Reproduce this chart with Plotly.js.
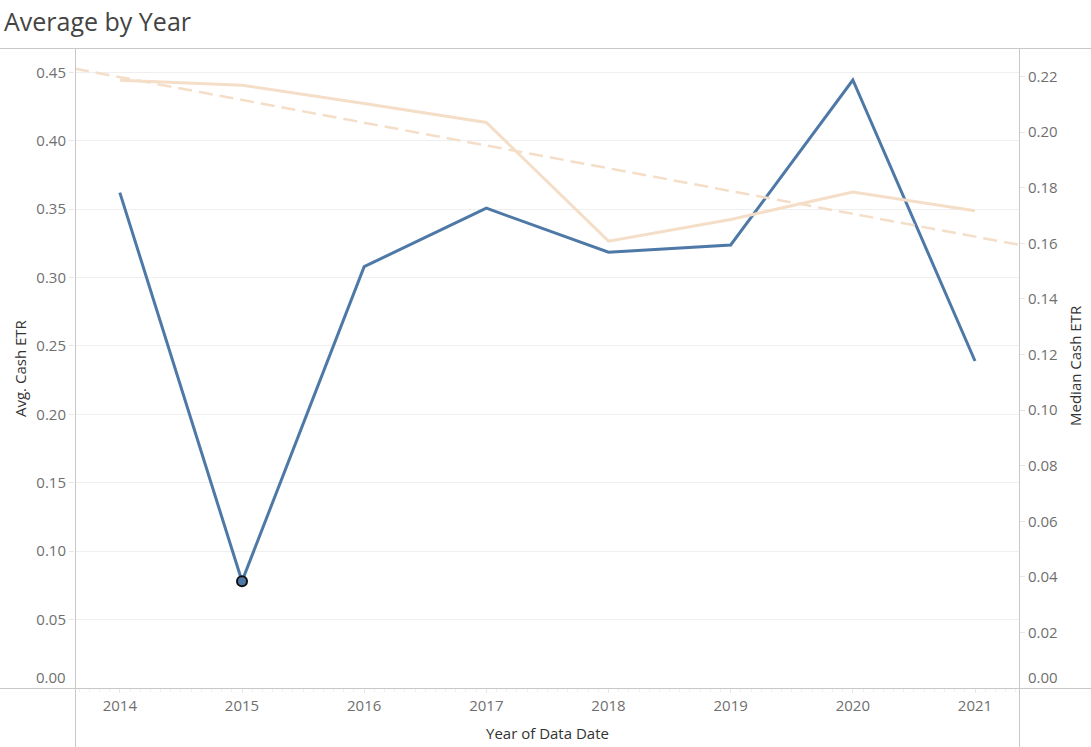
<!DOCTYPE html>
<html>
<head>
<meta charset="utf-8">
<script src="https://cdn.plot.ly/plotly-3.0.1.min.js"></script>
<style>
  html, body { margin: 0; padding: 0; background: #fff; }
  #chart { width: 1091px; height: 747px; }
</style>
</head>
<body>
<div id="chart"></div>
<script>
// ---- data ----
const years = [2014, 2015, 2016, 2017, 2018, 2019, 2020, 2021];
const avgCashETR = [0.3621, 0.0780, 0.3080, 0.3507, 0.3185, 0.3238, 0.4444, 0.2390];
const medianCashETR = [0.2187, 0.2169, 0.2103, 0.2035, 0.1608, 0.1686, 0.1785, 0.1717];
const selectedYear = 2015;
const leftTicks = [0, 0.05, 0.10, 0.15, 0.20, 0.25, 0.30, 0.35, 0.40, 0.45];
const rightTicks = [0, 0.02, 0.04, 0.06, 0.08, 0.10, 0.12, 0.14, 0.16, 0.18, 0.20, 0.22];

// ---- layout constants ----
const W = 1091, H = 747;
const M = { l: 75, r: 72, t: 48, b: 59 };
const PW = W - M.l - M.r, PH = H - M.t - M.b;
const xRange = [2013.633, 2021.36];
const yRange = [0, 0.4678];
const y2Range = [0, 0.2303];

const blue = '#4e79a7';
const peach = '#f4dec8';
const tickGrey = '#6f6f6f';
const lineGrey = '#c8c8c8';
const FONT = 'Open Sans, Noto Sans, sans-serif';

// least-squares trend of the median series (as Tableau's trend line)
const n = years.length;
const mx = years.reduce((a, b) => a + b, 0) / n;
const my = medianCashETR.reduce((a, b) => a + b, 0) / n;
let sxy = 0, sxx = 0;
for (let i = 0; i < n; i++) { sxy += (years[i] - mx) * (medianCashETR[i] - my); sxx += (years[i] - mx) ** 2; }
const slope = sxy / sxx;
const trendX = xRange.slice();
const trendY = trendX.map(x => my + slope * (x - mx));

const selIdx = years.indexOf(selectedYear);

const traces = [
  {
    x: trendX, y: trendY, yaxis: 'y2', mode: 'lines', type: 'scatter',
    line: { color: peach, width: 2.5, dash: '14px,7px' }, hoverinfo: 'skip', cliponaxis: false
  },
  {
    x: years, y: medianCashETR, yaxis: 'y2', mode: 'lines', type: 'scatter',
    line: { color: peach, width: 3 }, name: 'Median Cash ETR'
  },
  {
    x: years, y: avgCashETR, mode: 'lines', type: 'scatter',
    line: { color: blue, width: 3 }, name: 'Avg. Cash ETR'
  },
  {
    x: [years[selIdx]], y: [avgCashETR[selIdx]], mode: 'markers', type: 'scatter',
    marker: { color: blue, size: 10, line: { color: '#111', width: 2 } }, hoverinfo: 'skip'
  }
];

const px = v => (v - M.l) / PW;        // pixel x -> paper x
const py = v => (H - M.b - v) / PH;    // pixel y -> paper y

const layout = {
  width: W, height: H,
  margin: M,
  paper_bgcolor: '#fff', plot_bgcolor: '#fff',
  showlegend: false,
  font: { family: FONT, color: tickGrey, size: 15 },
  title: {
    text: 'Average by Year', x: 4 / W, xanchor: 'left', xref: 'container',
    y: 1 - 22 / H, yanchor: 'middle', yref: 'container',
    font: { family: FONT, size: 25, color: '#444' }
  },
  xaxis: {
    range: xRange, tickvals: years, ticktext: years.map(String),
    showgrid: false, zeroline: false, showline: false,
    ticks: 'outside', ticklen: 4, tickcolor: '#e6e6e6', tickwidth: 1,
    minor: { dtick: 1 / 12, tick0: 2014, ticks: 'outside', ticklen: 3, tickcolor: '#f0f0f0', showgrid: false },
    tickfont: { family: FONT, size: 15, color: tickGrey }
  },
  yaxis: {
    range: yRange, tickvals: leftTicks,
    ticktext: leftTicks.map(v => v === 0 ? '' : v.toFixed(2)),
    showgrid: true, gridcolor: '#efefef', gridwidth: 1,
    zeroline: false, showline: false,
    ticks: 'outside', ticklen: 5, tickcolor: '#e6e6e6',
    tickfont: { family: FONT, size: 15, color: tickGrey }
  },
  yaxis2: {
    range: y2Range, overlaying: 'y', side: 'right', tickvals: rightTicks,
    ticktext: rightTicks.map(v => v === 0 ? '' : v.toFixed(2)),
    showgrid: false, zeroline: false, showline: false,
    ticks: 'outside', ticklen: 5, tickcolor: '#e6e6e6',
    tickfont: { family: FONT, size: 15, color: tickGrey }
  },
  shapes: [
    { type: 'line', xref: 'paper', yref: 'paper', x0: px(0), x1: px(W), y0: py(48.5), y1: py(48.5), line: { color: lineGrey, width: 1 } },
    { type: 'line', xref: 'paper', yref: 'paper', x0: px(0), x1: px(W), y0: py(688.5), y1: py(688.5), line: { color: lineGrey, width: 1 } },
    { type: 'line', xref: 'paper', yref: 'paper', x0: px(75.5), x1: px(75.5), y0: py(48), y1: py(H), line: { color: lineGrey, width: 1 } },
    { type: 'line', xref: 'paper', yref: 'paper', x0: px(1019.5), x1: px(1019.5), y0: py(48), y1: py(H), line: { color: lineGrey, width: 1 } }
  ],
  annotations: [
    { text: 'Avg. Cash ETR', xref: 'paper', yref: 'paper', x: px(20), y: py(368), textangle: -90,
      showarrow: false, xanchor: 'center', yanchor: 'middle', font: { family: FONT, size: 15, color: '#333' } },
    { text: 'Median Cash ETR', xref: 'paper', yref: 'paper', x: px(1075), y: py(366), textangle: -90,
      showarrow: false, xanchor: 'center', yanchor: 'middle', font: { family: FONT, size: 15, color: '#333' } },
    { text: 'Year of Data Date', xref: 'paper', yref: 'paper', x: px(547), y: py(733),
      showarrow: false, xanchor: 'center', yanchor: 'middle', font: { family: FONT, size: 15, color: '#333' } },
    { text: '0.00', xref: 'paper', yref: 'paper', x: px(68), y: py(677),
      showarrow: false, xanchor: 'right', yanchor: 'middle', font: { family: FONT, size: 15, color: tickGrey } },
    { text: '0.00', xref: 'paper', yref: 'paper', x: px(1026), y: py(677),
      showarrow: false, xanchor: 'left', yanchor: 'middle', font: { family: FONT, size: 15, color: tickGrey } }
  ]
};

Plotly.newPlot('chart', traces, layout, { displayModeBar: false, staticPlot: true });
</script>
</body>
</html>
